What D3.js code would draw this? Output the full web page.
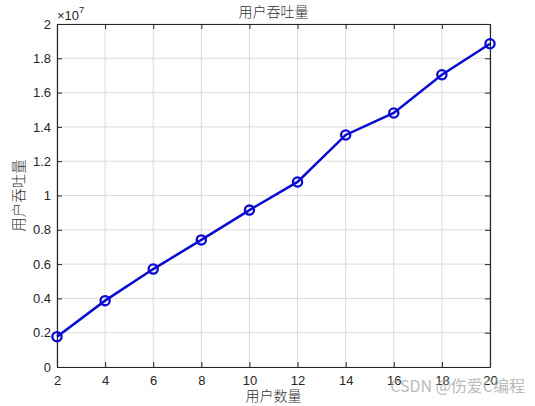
<!DOCTYPE html>
<html><head><meta charset="utf-8">
<script src="https://cdn.jsdelivr.net/npm/d3@7/dist/d3.min.js"></script>
<style>body{margin:0;background:#fff}svg{display:block}</style>
</head><body>
<svg id="c" width="535" height="406"></svg>
<script>
const xValues = [2, 4, 6, 8, 10, 12, 14, 16, 18, 20];
const throughput = [1.77e6, 3.87e6, 5.71e6, 7.41e6, 9.15e6, 1.079e7, 1.353e7, 1.481e7, 1.704e7, 1.885e7];
const xTicks = [2, 4, 6, 8, 10, 12, 14, 16, 18, 20];
const yTicks = [0, 0.2, 0.4, 0.6, 0.8, 1, 1.2, 1.4, 1.6, 1.8, 2];
const titleText = "用户吞吐量";
const xLabel = "用户数量";
const yLabel = "用户吞吐量";

const svg = d3.select("#c");
const L = 57, R = 490, T = 24, B = 367;
const x = d3.scaleLinear().domain([2, 20]).range([L, R]);
const y = d3.scaleLinear().domain([0, 2e7]).range([B, T]);
const tickFont = "Liberation Sans, Arial, sans-serif";
const cjk = "Noto Sans CJK SC, sans-serif";

// grid
svg.append("g").selectAll("line").data(xTicks).join("line")
  .attr("x1", d => x(d)).attr("x2", d => x(d)).attr("y1", T).attr("y2", B)
  .attr("stroke", "#dcdcdc").attr("stroke-width", 1);
svg.append("g").selectAll("line").data(yTicks).join("line")
  .attr("y1", d => y(d * 1e7)).attr("y2", d => y(d * 1e7)).attr("x1", L).attr("x2", R)
  .attr("stroke", "#dcdcdc").attr("stroke-width", 1);

// axes
const fmt = d => d3.format("~g")(d);
const gx = svg.append("g").attr("transform", `translate(0,${B})`)
  .call(d3.axisBottom(x).tickValues(xTicks).tickSizeInner(-5).tickSizeOuter(0).tickPadding(9).tickFormat(fmt));
const gxt = svg.append("g").attr("transform", `translate(0,${T})`)
  .call(d3.axisTop(x).tickValues(xTicks).tickSizeInner(-5).tickSizeOuter(0).tickFormat(""));
const gy = svg.append("g").attr("transform", `translate(${L},0)`)
  .call(d3.axisLeft(y).tickValues(yTicks.map(v => v * 1e7)).tickSizeInner(-5).tickSizeOuter(0).tickPadding(6).tickFormat(d => fmt(d / 1e7)));
const gyr = svg.append("g").attr("transform", `translate(${R},0)`)
  .call(d3.axisRight(y).tickValues(yTicks.map(v => v * 1e7)).tickSizeInner(-5).tickSizeOuter(0).tickFormat(""));
[gx, gxt, gy, gyr].forEach(g => {
  g.selectAll(".domain").attr("stroke", "#262626").attr("stroke-width", 1.2);
  g.selectAll(".tick line").attr("stroke", "#262626").attr("stroke-width", 1);
  g.selectAll("text").attr("fill", "#262626").attr("font-size", 13).attr("font-family", tickFont);
});

// exponent
const ex = svg.append("text").attr("x", L).attr("y", 20).attr("fill", "#262626")
  .attr("font-family", tickFont).attr("font-size", 13);
ex.append("tspan").text("×10");
ex.append("tspan").attr("dy", -7).attr("font-size", 9.5).text("7");

// line
const line = d3.line().x((d, i) => x(xValues[i])).y(d => y(d));
svg.append("path").datum(throughput).attr("d", line)
  .attr("fill", "none").attr("stroke", "#0a0ad0").attr("stroke-width", 2.5);
svg.append("g").selectAll("circle").data(throughput).join("circle")
  .attr("cx", (d, i) => x(xValues[i])).attr("cy", d => y(d)).attr("r", 4.6)
  .attr("fill", "none").attr("stroke", "#0a0ad0").attr("stroke-width", 2.3);

// labels
svg.append("text").attr("x", (L + R) / 2).attr("y", 17).attr("text-anchor", "middle")
  .attr("font-family", cjk).attr("font-size", 14).attr("fill", "#333").attr("font-weight", 300).text(titleText);
svg.append("text").attr("x", (L + R) / 2).attr("y", 401).attr("text-anchor", "middle")
  .attr("font-family", cjk).attr("font-size", 14).attr("fill", "#333").attr("font-weight", 300).text(xLabel);
svg.append("text").attr("transform", `translate(24,${(T + B) / 2}) rotate(-90)`).attr("text-anchor", "middle")
  .attr("font-family", cjk).attr("font-size", 14.5).attr("fill", "#333").attr("font-weight", 300).text(yLabel);

// watermark
svg.append("text").attr("x", 525).attr("y", 392).attr("text-anchor", "end")
  .attr("font-family", cjk).attr("font-size", 16).attr("fill", "#b0b0b0").attr("opacity", 0.85)
  .text("CSDN @伤爱C编程");
</script>
</body></html>
